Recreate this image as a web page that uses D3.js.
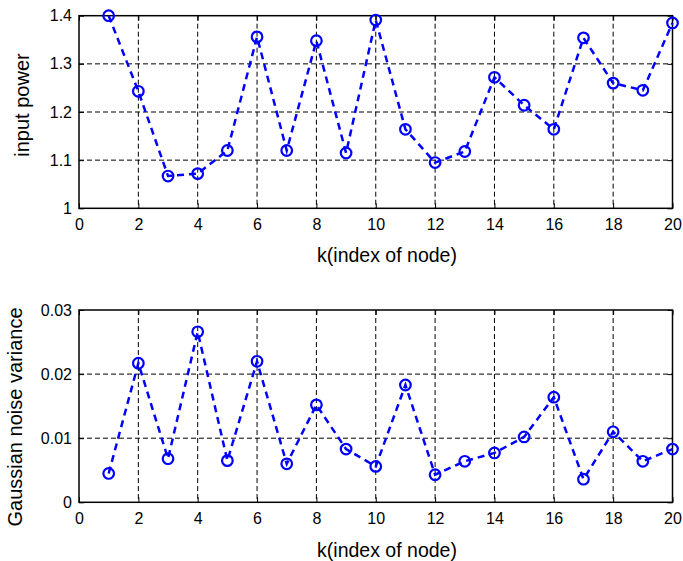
<!DOCTYPE html>
<html><head><meta charset="utf-8">
<script src="https://cdn.jsdelivr.net/npm/d3@7"></script>
<style>body{margin:0;background:#fff}svg{display:block}text{font-family:"Liberation Sans",Arial,sans-serif;fill:#000}</style>
</head><body>
<script>
const nodes = d3.range(1, 21);
const inputPower = [1.400,1.243,1.067,1.072,1.120,1.356,1.120,1.348,1.115,1.391,1.164,1.095,1.118,1.272,1.214,1.164,1.354,1.260,1.245,1.385];
const noiseVar = [0.0045,0.0217,0.0068,0.0266,0.0065,0.0220,0.0060,0.0152,0.0083,0.0056,0.0183,0.0043,0.0064,0.0077,0.0102,0.0164,0.0036,0.0110,0.0064,0.0083];
const xTicks = [0,2,4,6,8,10,12,14,16,18,20];
const yTicksTop = [1,1.1,1.2,1.3,1.4];
const yTicksBot = [0,0.01,0.02,0.03];
const xLabel = "k(index of node)";
const yLabelTop = "input power";
const yLabelBot = "Gaussian noise variance";

const W = 683, H = 561;
const svg = d3.select("body").append("svg").attr("width", W).attr("height", H);

function panel(opt){
  const {top, bottom, yDomain, yTicks, yFmt, data, ylab, ylabX, ylabY, xlabX, xlabY} = opt;
  const left = 79, right = 672.5;
  const x = d3.scaleLinear().domain([0,20]).range([left, right]);
  const y = d3.scaleLinear().domain(yDomain).range([bottom, top]);
  const g = svg.append("g");
  // grid
  g.selectAll(".gx").data(xTicks.slice(1,-1)).enter().append("line")
    .attr("x1", d=>x(d)).attr("x2", d=>x(d)).attr("y1", top).attr("y2", bottom)
    .attr("stroke","#000").attr("stroke-width",1).attr("stroke-dasharray","5,3");
  g.selectAll(".gy").data(yTicks.slice(1,-1)).enter().append("line")
    .attr("y1", d=>y(d)).attr("y2", d=>y(d)).attr("x1", left).attr("x2", right)
    .attr("stroke","#000").attr("stroke-width",1).attr("stroke-dasharray","5,3");
  // axes (ticks inward)
  const ax = (sel, axis) => { sel.call(axis); sel.select(".domain").remove();
    sel.selectAll(".tick line").attr("stroke","#000").attr("stroke-width",1);
    sel.selectAll(".tick text").attr("font-size","16px").attr("fill","#000").attr("font-family","Liberation Sans, Arial, sans-serif"); };
  const bx = g.append("g").attr("transform",`translate(0,${bottom})`);
  ax(bx, d3.axisBottom(x).tickValues(xTicks).tickSizeInner(-5).tickSizeOuter(0).tickPadding(10).tickFormat(d3.format("d")));
  const tx = g.append("g").attr("transform",`translate(0,${top})`);
  ax(tx, d3.axisTop(x).tickValues(xTicks).tickSizeInner(-5).tickSizeOuter(0).tickFormat(""));
  const ly = g.append("g").attr("transform",`translate(${left},0)`);
  ax(ly, d3.axisLeft(y).tickValues(yTicks).tickSizeInner(-5).tickSizeOuter(0).tickPadding(7).tickFormat(yFmt));
  const ry = g.append("g").attr("transform",`translate(${right},0)`);
  ax(ry, d3.axisRight(y).tickValues(yTicks).tickSizeInner(-5).tickSizeOuter(0).tickFormat(""));
  // box
  g.append("rect").attr("x",left).attr("y",top).attr("width",right-left).attr("height",bottom-top)
    .attr("fill","none").attr("stroke","#000").attr("stroke-width",1.5);
  // series
  const line = d3.line().x((d,i)=>x(nodes[i])).y(d=>y(d));
  g.append("path").datum(data).attr("d", line).attr("fill","none")
    .attr("stroke","#0000ff").attr("stroke-width",2.5).attr("stroke-dasharray","7,5");
  g.selectAll(".pt").data(data).enter().append("circle")
    .attr("cx",(d,i)=>x(nodes[i])).attr("cy",d=>y(d)).attr("r",5.3)
    .attr("fill","none").attr("stroke","#0000ff").attr("stroke-width",2.2);
  // labels
  g.append("text").attr("x",xlabX).attr("y",xlabY).attr("text-anchor","middle")
    .attr("font-size","19.5px").text(xLabel);
  g.append("text").attr("transform",`translate(${ylabX},${ylabY}) rotate(-90)`)
    .attr("text-anchor","middle").attr("font-size","20px").text(ylab);
}

panel({top:15.7, bottom:208.3, yDomain:[1,1.4], yTicks:yTicksTop, yFmt:d=>d3.format("")(d),
  data:inputPower, ylab:yLabelTop, ylabX:29, ylabY:105, xlabX:387, xlabY:262});
panel({top:310, bottom:502.3, yDomain:[0,0.03], yTicks:yTicksBot, yFmt:d=>d===0?"0":d3.format(".2f")(d),
  data:noiseVar, ylab:yLabelBot, ylabX:22, ylabY:417, xlabX:387, xlabY:557});
</script>
</body></html>
